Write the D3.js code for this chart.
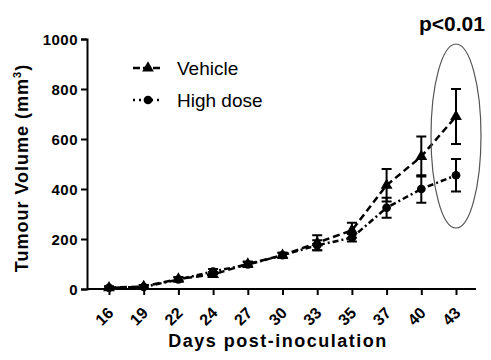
<!DOCTYPE html>
<html>
<head>
<meta charset="utf-8">
<script src="https://cdn.jsdelivr.net/npm/d3@7"></script>
<style>
  body { margin: 0; background: #fff; }
  text { font-family: "Liberation Sans", Arial, sans-serif; }
</style>
</head>
<body>
<div id="chart"></div>
<script>
var days = ["16", "19", "22", "24", "27", "30", "33", "35", "37", "40", "43"];
var vehicle = [5, 10, 40, 58, 100, 135, 185, 235, 415, 530, 690];
var vehicleErr = [5, 6, 8, 10, 10, 10, 30, 30, 65, 80, 110];
var highDose = [5, 8, 38, 70, 98, 135, 175, 205, 325, 400, 455];
var highDoseErr = [5, 6, 8, 10, 10, 10, 20, 15, 40, 55, 65];
var yTicks = [0, 200, 400, 600, 800, 1000];

var dim = { width: 491, height: 360 };
var svg = d3.select("#chart").append("svg")
    .attr("width", dim.width).attr("height", dim.height);

var x = d3.scalePoint().domain(days).range([109, 456]);
var y = d3.scaleLinear().domain([0, 1000]).range([289, 39]);

// axes
var yAxis = svg.append("g").attr("transform", "translate(87,0)")
    .call(d3.axisLeft(y).tickValues(yTicks).tickFormat(d3.format("d")).tickSize(6).tickPadding(3));
var xAxis = svg.append("g").attr("transform", "translate(0,289)")
    .call(d3.axisBottom(x).tickSize(6));

xAxis.select(".domain").attr("d", "M87,0H476");
[yAxis, xAxis].forEach(function (a) {
    a.selectAll("path, line").attr("stroke", "#000").attr("stroke-width", 2);
    a.selectAll("text").attr("fill", "#000")
        .style("font-size", "15px").style("font-weight", "bold");
});
yAxis.selectAll("text").attr("dy", "0.35em").style("letter-spacing", "0.5px");
xAxis.selectAll("text")
    .attr("text-anchor", "end")
    .attr("x", 0).attr("y", 0).attr("dy", "0.35em")
    .style("font-size", "16px")
    .attr("transform", "translate(1,21) rotate(-45)");

// titles
svg.append("text")
    .attr("transform", "translate(28,168) rotate(-90)")
    .attr("text-anchor", "middle")
    .style("font-size", "18px").style("font-weight", "bold").style("letter-spacing", "1px")
    .html("Tumour Volume (mm<tspan dy='-7' font-size='11px'>3</tspan><tspan dy='7'>)</tspan>");
svg.append("text")
    .attr("x", 278).attr("y", 347)
    .attr("text-anchor", "middle")
    .style("font-size", "18px").style("font-weight", "bold").style("letter-spacing", "1.5px")
    .text("Days post-inoculation");

var line = function (vals) {
    return d3.line().x(function (d, i) { return x(days[i]); })
        .y(function (d) { return y(d); })(vals);
};

var series = [
    { name: "Vehicle", vals: vehicle, err: vehicleErr, dash: "7,4", shape: d3.symbolTriangle },
    { name: "High dose", vals: highDose, err: highDoseErr, dash: "2,3,6,3", shape: d3.symbolCircle }
];

series.forEach(function (s) {
    svg.append("path").attr("d", line(s.vals))
        .attr("fill", "none").attr("stroke", "#000")
        .attr("stroke-width", 2.5).attr("stroke-dasharray", s.dash);
    var g = svg.append("g");
    s.vals.forEach(function (v, i) {
        var cx = x(days[i]);
        var top = y(v + s.err[i]), bot = y(v - s.err[i]);
        g.append("line").attr("x1", cx).attr("x2", cx).attr("y1", top).attr("y2", bot)
            .attr("stroke", "#000").attr("stroke-width", 2);
        [top, bot].forEach(function (yy) {
            g.append("line").attr("x1", cx - 5).attr("x2", cx + 5).attr("y1", yy).attr("y2", yy)
                .attr("stroke", "#000").attr("stroke-width", 2);
        });
        g.append("path").attr("d", d3.symbol().type(s.shape).size(60)())
            .attr("transform", "translate(" + cx + "," + y(v) + ")")
            .attr("fill", "#000");
    });
});

// legend
var legend = svg.append("g");
series.forEach(function (s, i) {
    var ly = 68 + i * 32;
    legend.append("line").attr("x1", 133).attr("x2", 163).attr("y1", ly).attr("y2", ly)
        .attr("stroke", "#000").attr("stroke-width", 2.5).attr("stroke-dasharray", i ? "2,4" : "7,3");
    legend.append("path").attr("d", d3.symbol().type(s.shape).size(60)())
        .attr("transform", "translate(148," + ly + ")").attr("fill", "#000");
    legend.append("text").attr("x", 177).attr("y", ly).attr("dy", "0.35em")
        .style("font-size", "19px").text(s.name);
});

// significance marker
svg.append("ellipse")
    .attr("cx", x("43")).attr("cy", 136).attr("rx", 25).attr("ry", 92)
    .attr("fill", "none").attr("stroke", "#555").attr("stroke-width", 1.2);
svg.append("text")
    .attr("x", 452).attr("y", 31).attr("text-anchor", "middle")
    .style("font-size", "21px").style("font-weight", "bold")
    .text("p<0.01");
</script>
</body>
</html>
